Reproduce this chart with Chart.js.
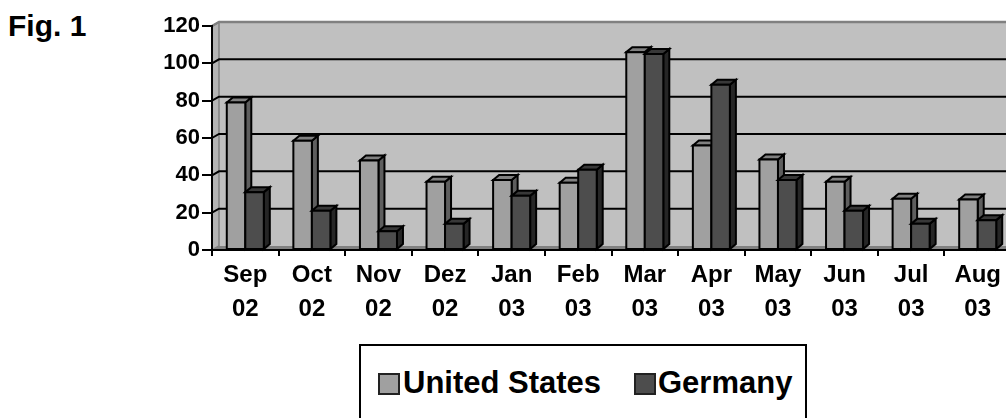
<!DOCTYPE html>
<html>
<head>
<meta charset="utf-8">
<script src="https://cdn.jsdelivr.net/npm/chart.js@4.4.1/dist/chart.umd.min.js"></script>
<style>
  html, body { margin: 0; padding: 0; background: #fff; overflow: hidden; }
  body { width: 1006px; height: 418px; position: relative; font-family: "Liberation Sans", Arial, sans-serif; }
  #chart { position: absolute; left: 0; top: 0; }
  #fig { position: absolute; left: 8px; top: 11px; font-size: 30px; line-height: 30px; font-weight: bold; }
  #legend { position: absolute; left: 359px; top: 344px; width: 444px; height: 100px; border: 2px solid #000; }
  .sw { position: absolute; top: 27px; width: 18px; height: 18px; border: 2px solid #222; }
  .lt { position: absolute; top: 21px; font-size: 31px; line-height: 31px; font-weight: bold; white-space: nowrap; }
</style>
</head>
<body>
<div id="fig">Fig. 1</div>
<canvas id="chart" width="1030" height="340"></canvas>
<div id="legend">
  <div class="sw" style="left:17px;background:#a0a0a0"></div><div class="lt" style="left:42px">United States</div>
  <div class="sw" style="left:273px;background:#4d4d4d"></div><div class="lt" style="left:297px">Germany</div>
</div>
<script>
// values
const months = [['Sep','02'],['Oct','02'],['Nov','02'],['Dez','02'],['Jan','03'],['Feb','03'],
                ['Mar','03'],['Apr','03'],['May','03'],['Jun','03'],['Jul','03'],['Aug','03']];
const unitedStates = [79, 58.5, 48, 36.5, 37.5, 36, 106, 56, 48.5, 36.5, 27.5, 27];
const germany = [31, 21, 10, 14, 29, 43, 105, 88.5, 37.5, 21, 14, 16];
const yTicks = [0, 20, 40, 60, 80, 100, 120];

const FONT = '"Liberation Sans", Arial, sans-serif';
const WALL = { dx: 7, dy: -4 };   // back wall offset
const BAR = { dx: 6, dy: -5 };    // bar depth
const faces = [
    { front: '#a0a0a0', side: '#5e5e5e', top: '#808080' },
    { front: '#4d4d4d', side: '#262626', top: '#383838' }
];

function poly(ctx, pts, fill, stroke, lw) {
    ctx.beginPath();
    ctx.moveTo(pts[0][0], pts[0][1]);
    for (let i = 1; i < pts.length; i++) ctx.lineTo(pts[i][0], pts[i][1]);
    ctx.closePath();
    if (fill) { ctx.fillStyle = fill; ctx.fill(); }
    if (stroke) { ctx.strokeStyle = stroke; ctx.lineWidth = lw || 2; ctx.stroke(); }
}

const depth3d = {
    id: 'depth3d',
    beforeDraw(chart) {
        const ctx = chart.ctx;
        const x = chart.scales.x, y = chart.scales.y;
        const L = x.left, R = x.right, T = y.top, B = y.bottom;
        ctx.save();
        // back wall
        poly(ctx, [[L + WALL.dx, T + WALL.dy], [R + WALL.dx, T + WALL.dy], [R + WALL.dx, B + WALL.dy], [L + WALL.dx, B + WALL.dy]], '#c0c0c0');
        // left wall
        poly(ctx, [[L, T], [L + WALL.dx, T + WALL.dy], [L + WALL.dx, B + WALL.dy], [L, B]], '#b4b4b4', '#808080', 1.5);
        // floor
        poly(ctx, [[L, B], [L + WALL.dx, B + WALL.dy], [R + WALL.dx, B + WALL.dy], [R, B]], '#808080');
        // gridlines on the walls
        yTicks.forEach(v => {
            if (v === 0) return;
            const py = y.getPixelForValue(v);
            ctx.beginPath();
            ctx.moveTo(L, py);
            ctx.lineTo(L + WALL.dx, py + WALL.dy);
            ctx.lineTo(R + WALL.dx, py + WALL.dy);
            ctx.strokeStyle = v === 120 ? '#808080' : '#000';
            ctx.lineWidth = v === 120 ? 2.5 : 2;
            ctx.stroke();
        });
        ctx.restore();
    },
    beforeDatasetsDraw(chart) {
        const ctx = chart.ctx;
        ctx.save();
        ctx.lineJoin = 'miter';
        const metas = chart.data.datasets.map((d, i) => chart.getDatasetMeta(i));
        for (let i = 0; i < months.length; i++) {
            metas.forEach((meta, di) => {
                const el = meta.data[i];
                const c = faces[di];
                const l = el.x - el.width / 2, r = el.x + el.width / 2, t = el.y, b = el.base;
                poly(ctx, [[r, t], [r + BAR.dx, t + BAR.dy], [r + BAR.dx, b + BAR.dy], [r, b]], c.side, '#000', 2);
                poly(ctx, [[l, t], [l + BAR.dx, t + BAR.dy], [r + BAR.dx, t + BAR.dy], [r, t]], c.top, '#000', 2);
                poly(ctx, [[l, t], [r, t], [r, b], [l, b]], c.front, '#000', 2);
            });
        }
        ctx.restore();
        return false;
    },
    afterDraw(chart) {
        const ctx = chart.ctx;
        const x = chart.scales.x, y = chart.scales.y;
        ctx.save();
        ctx.beginPath();
        ctx.moveTo(x.left - 1, y.bottom);
        ctx.lineTo(x.right, y.bottom);
        ctx.strokeStyle = '#000';
        ctx.lineWidth = 2;
        ctx.stroke();
        ctx.restore();
    }
};

new Chart(document.getElementById('chart'), {
    type: 'bar',
    data: {
        labels: months,
        datasets: [
            { label: 'United States', data: unitedStates, backgroundColor: faces[0].front },
            { label: 'Germany', data: germany, backgroundColor: faces[1].front }
        ]
    },
    options: {
        responsive: false,
        animation: false,
        devicePixelRatio: 1,
        layout: { padding: { top: 26, left: 0, right: 19, bottom: 0 } },
        datasets: { bar: { categoryPercentage: 0.556, barPercentage: 1 } },
        scales: {
            x: {
                afterFit: s => { s.height = 90; },
                grid: { offset: true, drawOnChartArea: false, tickLength: 6, color: '#000', lineWidth: 2 },
                border: { color: '#000', width: 2 },
                ticks: {
                    autoSkip: false, maxRotation: 0, padding: 3, color: '#000',
                    font: { family: FONT, size: 24, weight: 'bold', lineHeight: 1.4 }
                }
            },
            y: {
                min: 0, max: 120,
                afterFit: s => { s.width = 212; },
                afterBuildTicks: s => { s.ticks = yTicks.map(v => ({ value: v })); },
                grid: { drawOnChartArea: false, tickLength: 10, color: '#000', lineWidth: 2 },
                border: { color: '#000', width: 2 },
                ticks: { padding: 2, color: '#000', font: { family: FONT, size: 22, weight: 'bold' } }
            }
        },
        plugins: { legend: { display: false }, tooltip: { enabled: false } }
    },
    plugins: [depth3d]
});
</script>
</body>
</html>
